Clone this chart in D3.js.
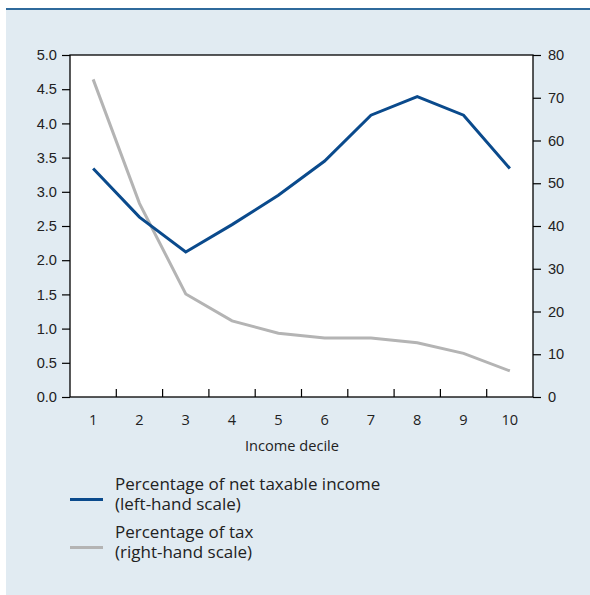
<!DOCTYPE html>
<html><head><meta charset="utf-8">
<script src="https://cdn.jsdelivr.net/npm/d3@7"></script>
<style>
html,body{margin:0;padding:0;background:#fff;}
svg{display:block;font-family:"Open Sans","Noto Sans",sans-serif;}
</style></head>
<body>
<svg id="chart" width="590" height="595"></svg>
<script>
const deciles = ["1","2","3","4","5","6","7","8","9","10"];
const incomeShare = [3.34, 2.63, 2.12, 2.52, 2.95, 3.45, 4.12, 4.39, 4.12, 3.34];
const taxShare = [74.3, 45.3, 24.1, 17.8, 14.9, 13.8, 13.8, 12.7, 10.2, 6.1];
const leftTicks = [0,0.5,1,1.5,2,2.5,3,3.5,4,4.5,5];
const rightTicks = [0,10,20,30,40,50,60,70,80];
const xTitle = "Income decile";
const legendItems = [
  {lines:["Percentage of net taxable income","(left-hand scale)"], color:"#0a4a8c"},
  {lines:["Percentage of tax","(right-hand scale)"], color:"#b4b4b4"}
];

const svg = d3.select("#chart");
svg.append("rect").attr("x",6).attr("y",9).attr("width",584).attr("height",586).attr("fill","#e1ebf2");
svg.append("rect").attr("x",6).attr("y",8).attr("width",584).attr("height",2).attr("fill","#2f6a9c");

const L=70, R=533, T=55, B=397;
svg.append("rect").attr("x",L).attr("y",T).attr("width",R-L).attr("height",B-T).attr("fill","#fff");

const x = d3.scaleBand().domain(deciles).range([L,R]);
const yL = d3.scaleLinear().domain([0,5]).range([B,T]);
const yR = d3.scaleLinear().domain([0,80]).range([B,T]);

const axL = svg.append("g").attr("transform",`translate(${L},0)`)
  .call(d3.axisLeft(yL).tickValues(leftTicks).tickFormat(d3.format(".1f")).tickSize(8).tickPadding(5));
const axR = svg.append("g").attr("transform",`translate(${R},0)`)
  .call(d3.axisRight(yR).tickValues(rightTicks).tickSize(8).tickPadding(7));
[axL,axR].forEach(a=>{
  a.select(".domain").remove();
  a.selectAll("line").attr("stroke","#000").attr("stroke-width",1.2);
  a.selectAll("text").attr("fill","#222").style("font-size","14.6px");
});

// frame
svg.append("rect").attr("x",L).attr("y",T).attr("width",R-L).attr("height",B-T)
  .attr("fill","none").attr("stroke","#000").attr("stroke-width",1.3);

// bottom inner ticks at band boundaries
const bounds = deciles.slice(1).map(d=>x(d));
svg.append("g").selectAll("line").data(bounds).join("line")
  .attr("x1",d=>d).attr("x2",d=>d).attr("y1",B).attr("y2",B-8)
  .attr("stroke","#000").attr("stroke-width",1.2);

// x labels
svg.append("g").selectAll("text").data(deciles).join("text")
  .attr("x",d=>x(d)+x.bandwidth()/2).attr("y",425)
  .attr("text-anchor","middle").attr("fill","#222").style("font-size","14.6px").text(d=>d);
svg.append("text").attr("x",292).attr("y",451).attr("text-anchor","middle")
  .attr("fill","#222").style("font-size","14.6px").text(xTitle);

const cx = d=>x(d)+x.bandwidth()/2;
svg.append("path").datum(taxShare)
  .attr("d", d3.line().x((d,i)=>cx(deciles[i])).y(d=>yR(d)))
  .attr("fill","none").attr("stroke","#b4b4b4").attr("stroke-width",3);
svg.append("path").datum(incomeShare)
  .attr("d", d3.line().x((d,i)=>cx(deciles[i])).y(d=>yL(d)))
  .attr("fill","none").attr("stroke","#0a4a8c").attr("stroke-width",3);

// legend
const lg = svg.append("g");
legendItems.forEach((it,i)=>{
  const y0 = 490 + i*48;
  lg.append("line").attr("x1",70).attr("x2",103).attr("y1",y0+9.5).attr("y2",y0+9.5)
    .attr("stroke",it.color).attr("stroke-width",3);
  const t = lg.append("text").attr("x",115).attr("y",y0).attr("fill","#222").style("font-size","17px");
  it.lines.forEach((s,j)=>{
    t.append("tspan").attr("x",115).attr("dy", j===0 ? 0 : 20).text(s);
  });
});
</script>
</body></html>
